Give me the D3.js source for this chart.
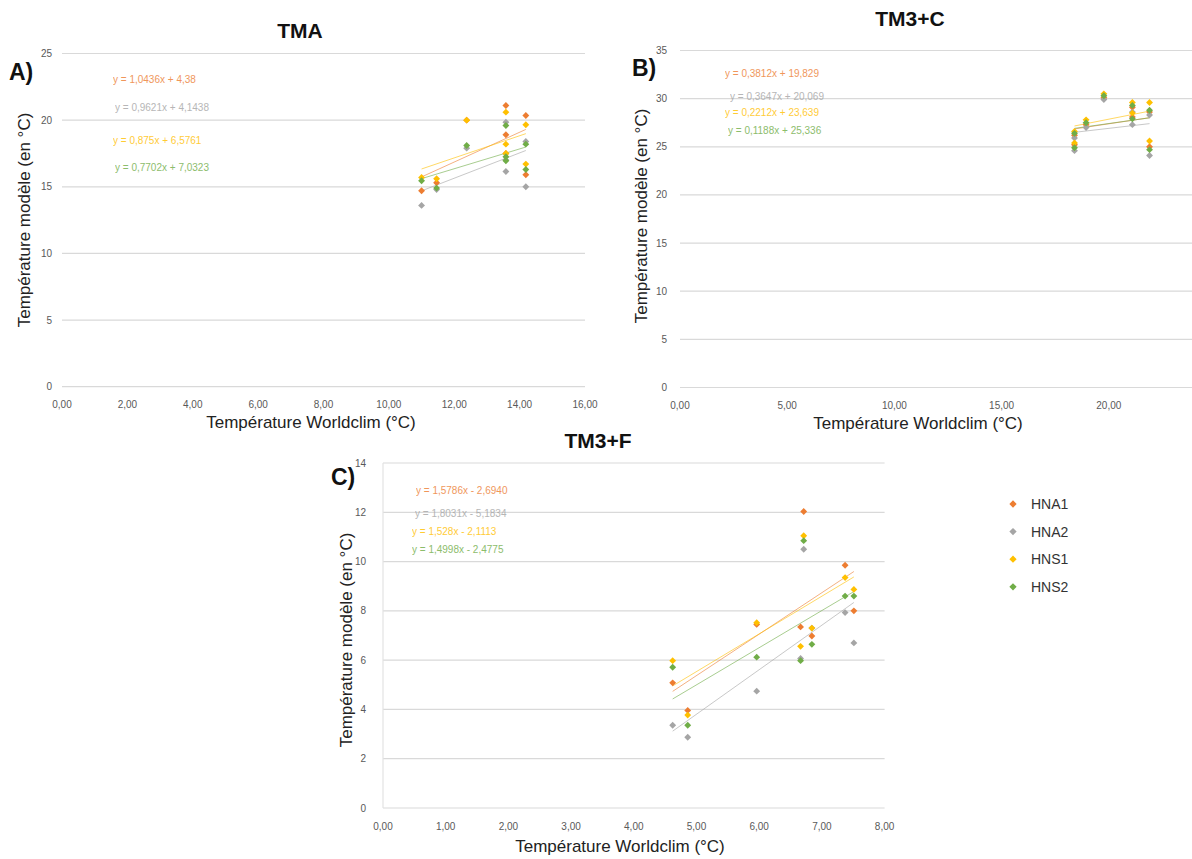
<!DOCTYPE html>
<html>
<head>
<meta charset="utf-8">
<script src="https://cdn.jsdelivr.net/npm/d3@7"></script>
<style>
  html, body { margin: 0; padding: 0; background: #ffffff; }
  svg { display: block; font-family: "Liberation Sans", Arial, Helvetica, sans-serif; }
</style>
</head>
<body>
<svg id="chart" width="1192" height="859"></svg>
<script>
// ---------- DATA ----------
const seriesNames = ["HNA1", "HNA2", "HNS1", "HNS2"];
const seriesColors = ["#ED7D31", "#A5A5A5", "#FFC000", "#70AD47"];

// Panel A : TMA
const tmaX    = [11.0, 11.46, 12.38, 13.58, 13.58, 13.58, 14.19, 14.19];
const tmaHNA1 = [14.7, 15.3, 20.0, 21.1, 18.9, 17.5, 20.35, 15.9];
const tmaHNA2 = [13.6, 14.8, 17.9, 19.85, 17.0, 16.15, 18.4, 15.0];
const tmaHNS1 = [15.7, 15.6, 20.0, 20.6, 18.2, 17.5, 19.65, 16.7];
const tmaHNS2 = [15.45, 14.9, 18.1, 19.6, 17.25, 16.95, 18.2, 16.3];
const tmaEquations = ["y = 1,0436x + 4,38", "y = 0,9621x + 4,1438", "y = 0,875x + 6,5761", "y = 0,7702x + 7,0323"];
const tmaXTicks = [0, 2, 4, 6, 8, 10, 12, 14, 16];
const tmaYTicks = [0, 5, 10, 15, 20, 25];

// Panel B : TM3+C
const tm3cX    = [18.4, 18.4, 18.94, 19.77, 21.1, 21.1, 21.9, 21.9];
const tm3cHNA1 = [26.2, 25.2, 27.3, 30.1, 29.1, 28.1, 28.6, 25.0];
const tm3cHNA2 = [25.9, 24.6, 27.0, 29.9, 28.6, 27.3, 28.3, 24.1];
const tm3cHNS1 = [26.6, 25.4, 27.8, 30.5, 29.6, 28.5, 29.6, 25.6];
const tm3cHNS2 = [26.4, 24.9, 27.5, 30.3, 29.3, 27.9, 28.8, 24.7];
const tm3cEquations = ["y = 0,3812x + 19,829", "y = 0,3647x + 20,069", "y = 0,2212x + 23,639", "y = 0,1188x + 25,336"];
const tm3cXTicks = [0, 5, 10, 15, 20];
const tm3cYTicks = [0, 5, 10, 15, 20, 25, 30, 35];

// Panel C : TM3+F
const tm3fX    = [4.62, 4.86, 5.96, 6.66, 6.71, 6.84, 7.37, 7.51];
const tm3fHNA1 = [5.08, 3.96, 7.45, 7.35, 12.03, 6.98, 9.85, 8.0];
const tm3fHNA2 = [3.36, 2.87, 4.74, 6.07, 10.5, 7.3, 7.93, 6.7];
const tm3fHNS1 = [5.98, 3.77, 7.52, 6.56, 11.05, 7.3, 9.35, 8.87];
const tm3fHNS2 = [5.71, 3.36, 6.12, 5.98, 10.85, 6.64, 8.6, 8.6];
const tm3fEquations = ["y = 1,5786x - 2,6940", "y = 1,8031x - 5,1834", "y = 1,528x - 2,1113", "y = 1,4998x - 2,4775"];
const tm3fXTicks = [0, 1, 2, 3, 4, 5, 6, 7, 8];
const tm3fYTicks = [0, 2, 4, 6, 8, 10, 12, 14];

const xTitle = "Température Worldclim (°C)";
const yTitle = "Température modèle (en °C)";

// ---------- LAYOUT ----------
const svg = d3.select("#chart");
svg.append("rect").attr("width", 1192).attr("height", 859).attr("fill", "#fff");

const fmtX = v => d3.format(".2f")(v).replace(".", ",");

const panels = [
  {
    title: "TMA", tag: "A)", xs: tmaX, ys: [tmaHNA1, tmaHNA2, tmaHNS1, tmaHNS2], eq: tmaEquations,
    xTicks: tmaXTicks, yTicks: tmaYTicks,
    xDom: [0, 16], xRange: [62, 585], yDom: [0, 25], yRange: [386.7, 53.5],
    titlePos: [300, 38], tagPos: [9, 80],
    eqPos: [[113, 79], [115, 107], [113, 140], [115, 167]],
    xLabY: 404, xTitlePos: [311, 428], yTitlePos: [24, 220], yLabX: 52, leftLine: false
  },
  {
    title: "TM3+C", tag: "B)", xs: tm3cX, ys: [tm3cHNA1, tm3cHNA2, tm3cHNS1, tm3cHNS2], eq: tm3cEquations,
    xTicks: tm3cXTicks, yTicks: tm3cYTicks,
    xDom: [0, 25], xRange: [680, 1216], yDom: [0, 35], yRange: [387.5, 50.5],
    titlePos: [910, 26], tagPos: [632, 76],
    eqPos: [[725, 73], [730, 96], [725, 112], [728, 130]],
    xLabY: 405, xTitlePos: [918, 429], yTitlePos: [641, 216], yLabX: 667, leftLine: false
  },
  {
    title: "TM3+F", tag: "C)", xs: tm3fX, ys: [tm3fHNA1, tm3fHNA2, tm3fHNS1, tm3fHNS2], eq: tm3fEquations,
    xTicks: tm3fXTicks, yTicks: tm3fYTicks,
    xDom: [0, 8], xRange: [383, 884.6], yDom: [0, 14], yRange: [808, 463],
    titlePos: [598, 448], tagPos: [331, 485],
    eqPos: [[416, 490], [415, 513], [412, 531], [412, 549]],
    xLabY: 826, xTitlePos: [620, 852], yTitlePos: [346, 640], yLabX: 366, leftLine: true
  }
];

function linreg(xs, ys) {
  const mx = d3.mean(xs), my = d3.mean(ys);
  let sxy = 0, sxx = 0;
  xs.forEach((x, i) => { sxy += (x - mx) * (ys[i] - my); sxx += (x - mx) * (x - mx); });
  const b = sxy / sxx;
  return { slope: b, intercept: my - b * mx };
}

const diamond = d3.symbol().type(d3.symbolDiamond2).size(30);

panels.forEach(p => {
  const x = d3.scaleLinear().domain(p.xDom).range(p.xRange);
  const y = d3.scaleLinear().domain(p.yDom).range(p.yRange);
  const g = svg.append("g");

  // gridlines
  g.selectAll("line.grid").data(p.yTicks).enter().append("line")
    .attr("x1", p.xRange[0]).attr("x2", Math.min(p.xRange[1], 1192))
    .attr("y1", d => y(d)).attr("y2", d => y(d))
    .attr("stroke", "#D9D9D9").attr("stroke-width", 1.2);
  if (p.leftLine) {
    g.append("line").attr("x1", p.xRange[0]).attr("x2", p.xRange[0])
      .attr("y1", y(p.yDom[0])).attr("y2", y(p.yDom[1]))
      .attr("stroke", "#E3E3E3").attr("stroke-width", 1.2);
  }

  // y tick labels
  g.selectAll("text.yl").data(p.yTicks).enter().append("text")
    .attr("x", p.yLabX).attr("y", d => y(d)).attr("dy", "0.35em")
    .attr("text-anchor", "end").attr("font-size", 10).attr("fill", "#595959")
    .text(d => d);

  // x tick labels
  g.selectAll("text.xl").data(p.xTicks).enter().append("text")
    .attr("x", d => x(d)).attr("y", p.xLabY).attr("dy", "0.35em")
    .attr("text-anchor", "middle").attr("font-size", 10).attr("fill", "#595959")
    .text(d => fmtX(d));

  // titles
  g.append("text").attr("x", p.titlePos[0]).attr("y", p.titlePos[1])
    .attr("text-anchor", "middle").attr("font-size", 21).attr("font-weight", "bold").attr("fill", "#111")
    .text(p.title);
  g.append("text").attr("x", p.tagPos[0]).attr("y", p.tagPos[1])
    .attr("font-size", 23).attr("font-weight", "bold").attr("fill", "#111")
    .text(p.tag);
  g.append("text").attr("x", p.xTitlePos[0]).attr("y", p.xTitlePos[1])
    .attr("text-anchor", "middle").attr("font-size", 17).attr("fill", "#222")
    .text(xTitle);
  g.append("text")
    .attr("transform", `translate(${p.yTitlePos[0]},${p.yTitlePos[1]}) rotate(-90)`)
    .attr("text-anchor", "middle").attr("dy", "0.35em").attr("font-size", 17).attr("fill", "#222")
    .text(yTitle);

  // trend lines
  p.ys.forEach((ys, si) => {
    const r = linreg(p.xs, ys);
    const x0 = d3.min(p.xs), x1 = d3.max(p.xs);
    g.append("line")
      .attr("x1", x(x0)).attr("y1", y(r.slope * x0 + r.intercept))
      .attr("x2", x(x1)).attr("y2", y(r.slope * x1 + r.intercept))
      .attr("stroke", seriesColors[si]).attr("stroke-width", 1).attr("opacity", 0.6);
  });

  // points
  p.ys.forEach((ys, si) => {
    g.selectAll(null).data(ys.map((v, i) => [p.xs[i], v])).enter().append("path")
      .attr("d", diamond)
      .attr("transform", d => `translate(${x(d[0])},${y(d[1])})`)
      .attr("fill", seriesColors[si]);
  });

  // equations
  p.eq.forEach((t, si) => {
    g.append("text").attr("x", p.eqPos[si][0]).attr("y", p.eqPos[si][1]).attr("dy", "0.35em")
      .attr("font-size", 10).attr("fill", seriesColors[si]).attr("opacity", 0.8)
      .text(t);
  });
});

// legend
const legend = svg.append("g");
seriesNames.forEach((n, i) => {
  const yy = 504 + i * 27.6;
  legend.append("path").attr("d", d3.symbol().type(d3.symbolDiamond2).size(34))
    .attr("transform", `translate(1013,${yy})`).attr("fill", seriesColors[i]);
  legend.append("text").attr("x", 1031).attr("y", yy).attr("dy", "0.36em")
    .attr("font-size", 14).attr("fill", "#333").text(n);
});
</script>
</body>
</html>
